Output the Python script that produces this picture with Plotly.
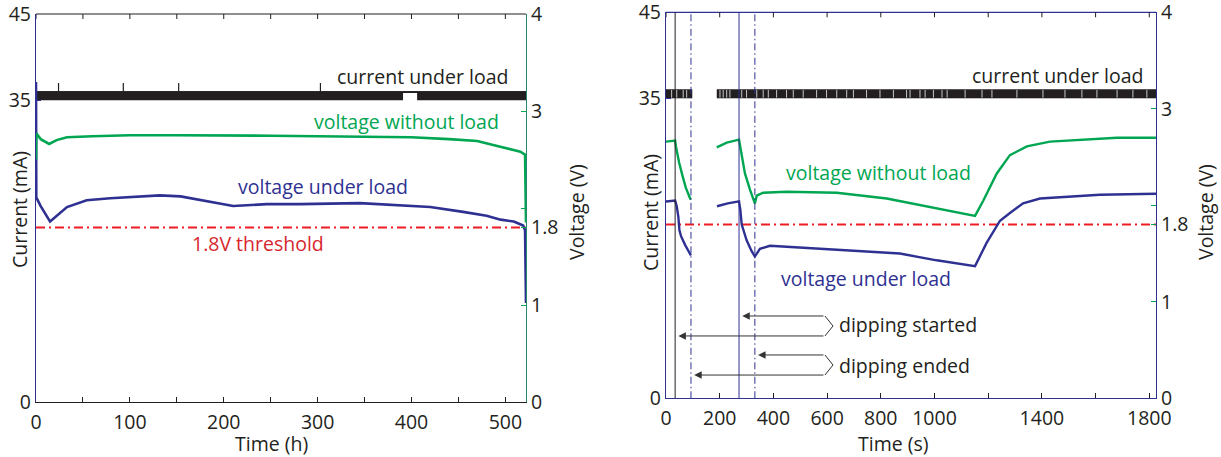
import plotly.graph_objects as go

# ---------------- data: left panel (long-term test, hours) ----------------
lt_green_t = [0, 0.3, 5, 14, 22, 33, 60, 100, 150, 200, 250, 300, 350, 400, 440, 470, 487, 500, 509, 516, 521, 522]
lt_green_v = [2.50, 2.77, 2.71, 2.66, 2.70, 2.73, 2.74, 2.75, 2.75, 2.75, 2.745, 2.74, 2.735, 2.73, 2.71, 2.69, 2.65, 2.62, 2.60, 2.58, 2.55, 1.85]
lt_blue_t = [0, 0.3, 5, 15, 33, 54, 79, 132, 154, 175, 189, 210, 246, 281, 345, 377, 420, 455, 480, 495, 509, 519, 521, 522]
lt_blue_v = [3.3, 2.11, 2.02, 1.86, 2.01, 2.08, 2.10, 2.13, 2.12, 2.08, 2.06, 2.02, 2.04, 2.04, 2.05, 2.03, 2.01, 1.96, 1.92, 1.88, 1.86, 1.82, 1.77, 1.02]
lt_cur_t = [0, 391, 391, 406, 406, 522]
lt_cur_lo = [35.0, 35.0, 35.85, 35.85, 35.0, 35.0]
lt_cur_hi = [36.0, 36.0, 36.0, 36.0, 36.0, 36.0]
lt_spike_t = [24, 93, 152, 303]
lt_spike_base = 36.0
lt_spike_peak = 37.0
lt_xmax = 522

# ---------------- data: right panel (dipping test, seconds) ----------------
st_green_t = [0, 34, 37, 49, 62, 74, 90, 93, None, 189, 226, 272, 282, 294, 313, 331, 338, 362, 449, 636, 822, 1008, 1151, 1182, 1232, 1281, 1344, 1430, 1554, 1680, 1825]
st_green_v = [2.66, 2.67, 2.61, 2.44, 2.30, 2.18, 2.07, 2.06, None, 2.60, 2.65, 2.68, 2.50, 2.33, 2.16, 2.02, 2.10, 2.13, 2.14, 2.13, 2.07, 1.97, 1.89, 2.05, 2.33, 2.52, 2.61, 2.66, 2.68, 2.70, 2.70]
st_blue_t = [0, 34, 40, 46, 50, 56, 71, 93, None, 190, 230, 272, 277, 282, 300, 318, 331, 350, 387, 574, 760, 871, 1008, 1151, 1194, 1244, 1281, 1330, 1393, 1493, 1616, 1825]
st_blue_v = [2.04, 2.05, 1.99, 1.88, 1.74, 1.68, 1.59, 1.48, None, 1.99, 2.02, 2.04, 1.95, 1.80, 1.64, 1.53, 1.47, 1.55, 1.58, 1.55, 1.52, 1.50, 1.43, 1.37, 1.61, 1.84, 1.92, 2.02, 2.07, 2.09, 2.11, 2.12]
st_cur_seg_start = [0, 190]
st_cur_seg_end = [97, 1825]
st_cur_lo = 35.0
st_cur_hi = 36.0
st_cur_dropouts = [21, 40, 64, 77, 201, 213, 226, 238, 282, 300, 338, 362, 381, 412, 449, 474, 511,
                   561, 598, 636, 673, 698, 747, 797, 847, 896, 909, 946, 965, 996, 1028, 1047, 1114,
                   1177, 1214, 1307, 1404, 1486, 1549, 1605, 1680, 1739, 1791]
dip_started = [34, 272]
dip_ended = [93, 331]
st_xmax = 1825

threshold_v = 1.8

# tick labels
lt_xticks = list(range(0, 501, 50))
lt_xticktext = [str(v) if v % 100 == 0 else "" for v in lt_xticks]
st_xticks = list(range(0, 1801, 200))
st_xticktext = ["0", "200", "400", "600", "800", "1000", "", "1400", "", "1800"]
cur_ticks = [0, 35, 45]
volt_ticks = [0, 1, 1.8, 2, 3, 4]
volt_ticktext = ["0", "1", "1.8", "", "3", "4"]

# ---------------- styles ----------------
GREEN = "#00a651"
BLUE = "#2e3192"
RED = "#ed1c24"
RED_TXT = "#d7262e"
BLACK = "#231f20"
TEAL = "#26876f"
FONT = "Open Sans"
FS = 19.5
W, H = 1221, 457

fig = go.Figure()

# ---- left panel current band ----
fig.add_trace(go.Scatter(x=lt_cur_t, y=lt_cur_lo, mode="lines", line=dict(width=0, color=BLACK),
                         xaxis="x", yaxis="y", showlegend=False, hoverinfo="skip"))
fig.add_trace(go.Scatter(x=lt_cur_t, y=lt_cur_hi, mode="lines", line=dict(width=1, color=BLACK),
                         fill="tonexty", fillcolor=BLACK, xaxis="x", yaxis="y", showlegend=False))
sx, sy = [], []
for t in lt_spike_t:
    sx += [t, t, None]
    sy += [lt_spike_base, lt_spike_peak, None]
fig.add_trace(go.Scatter(x=sx, y=sy, mode="lines", line=dict(width=1.2, color=BLACK),
                         xaxis="x", yaxis="y", showlegend=False))

# ---- left panel voltages ----
fig.add_trace(go.Scatter(x=[0, lt_xmax], y=[threshold_v, threshold_v], mode="lines",
                         line=dict(color=RED, width=2, dash="9px,4px,2px,4px"),
                         xaxis="x", yaxis="y2", showlegend=False))
fig.add_trace(go.Scatter(x=lt_blue_t, y=lt_blue_v, mode="lines", line=dict(color=BLUE, width=2.6),
                         xaxis="x", yaxis="y2", showlegend=False))
fig.add_trace(go.Scatter(x=lt_green_t, y=lt_green_v, mode="lines", line=dict(color=GREEN, width=2.6),
                         xaxis="x", yaxis="y2", showlegend=False))

# ---- right panel current band ----
bx, by = [], []
for a, b in zip(st_cur_seg_start, st_cur_seg_end):
    bx += [a, b, b, a, a, None]
    by += [st_cur_lo, st_cur_lo, st_cur_hi, st_cur_hi, st_cur_lo, None]
fig.add_trace(go.Scatter(x=bx, y=by, mode="lines", fill="toself", fillcolor=BLACK,
                         line=dict(width=0.5, color=BLACK), xaxis="x2", yaxis="y3", showlegend=False))
dx, dy = [], []
for t in st_cur_dropouts:
    dx += [t, t, None]
    dy += [st_cur_lo + 0.05, st_cur_hi - 0.05, None]
fig.add_trace(go.Scatter(x=dx, y=dy, mode="lines", line=dict(width=1, color="rgba(255,255,255,0.75)"),
                         xaxis="x2", yaxis="y3", showlegend=False))

# ---- right panel voltages ----
fig.add_trace(go.Scatter(x=[0, st_xmax], y=[threshold_v, threshold_v], mode="lines",
                         line=dict(color=RED, width=2, dash="9px,4px,2px,4px"),
                         xaxis="x2", yaxis="y4", showlegend=False))
fig.add_trace(go.Scatter(x=st_green_t, y=st_green_v, mode="lines", line=dict(color=GREEN, width=2.4),
                         xaxis="x2", yaxis="y4", showlegend=False, connectgaps=False))
fig.add_trace(go.Scatter(x=st_blue_t, y=st_blue_v, mode="lines", line=dict(color=BLUE, width=2.4),
                         xaxis="x2", yaxis="y4", showlegend=False, connectgaps=False))

shapes = []

# ---- top frame line + mirrored top ticks (drawn as shapes) ----
TICKFRAC_L = 5 / 388
TICKFRAC_R = 5 / 386
for xref, yref, ticks, col, frac in [("x", "y", lt_xticks, BLACK, TICKFRAC_L),
                                      ("x2", "y3", st_xticks, BLUE, TICKFRAC_R)]:
    shapes.append(dict(type="line", xref=f"{xref} domain", yref=f"{yref} domain",
                       x0=0, x1=1, y0=1, y1=1, line=dict(color=col, width=1.2)))
    for v in ticks:
        shapes.append(dict(type="line", xref=xref, yref=f"{yref} domain",
                           x0=v, x1=v, y0=1, y1=1 - frac, line=dict(color=BLACK, width=1)))

# ---- vertical event lines ----
start_colors = [BLACK, BLUE]
for t, c in zip(dip_started, start_colors):
    shapes.append(dict(type="line", xref="x2", yref="y3", x0=t, x1=t, y0=0, y1=45,
                       line=dict(color=c, width=1)))
for t in dip_ended:
    shapes.append(dict(type="line", xref="x2", yref="y3", x0=t, x1=t, y0=0, y1=45,
                       line=dict(color=BLUE, width=1, dash="7px,3px,1.5px,3px")))

# ---- bracket arrows ----
BR_X, TIP_X = 592, 622
ARROW_COL = "#333333"
arrow_rows = [  # (targets, y upper, y mid, y lower)
    (dip_started, 0.853, 0.749, 0.646),
    (dip_ended, 0.449, 0.345, 0.241),
]
annotations = []
for targets, yu, ym, yl in arrow_rows:
    shapes.append(dict(type="path", xref="x2", yref="y4",
                       path=f"M {BR_X},{yu} L {TIP_X},{ym} L {BR_X},{yl}",
                       line=dict(color=ARROW_COL, width=1)))
    # later event -> upper row, earlier event -> lower row
    for t, yy in [(targets[1], yu), (targets[0], yl)]:
        annotations.append(dict(x=t + 12, y=yy, xref="x2", yref="y4", ax=BR_X, ay=yy,
                                axref="x2", ayref="y4", text="", showarrow=True,
                                arrowhead=2, arrowsize=1.5, arrowwidth=1, arrowcolor=ARROW_COL))


def txt(s, x, y, xref, yref, color, xanchor="center", angle=0):
    annotations.append(dict(text=s, x=x, y=y, xref=xref, yref=yref, showarrow=False,
                            xanchor=xanchor, yanchor="middle", textangle=angle,
                            font=dict(family=FONT, size=FS, color=color)))


# left panel labels
txt("current under load", 505, 3.36, "x", "y2", BLACK, "right")
txt("voltage without load", 395, 2.89, "x", "y2", GREEN)
txt("voltage under load", 306, 2.22, "x", "y2", BLUE)
txt("1.8V threshold", 237, 1.63, "x", "y2", RED_TXT)
# right panel labels
txt("current under load", 1784, 3.35, "x2", "y4", BLACK, "right")
txt("voltage without load", 790, 2.34, "x2", "y4", GREEN)
txt("voltage under load", 745, 1.24, "x2", "y4", BLUE)
txt("dipping started", 637, 0.76, "x2", "y4", BLACK, "left")
txt("dipping ended", 637, 0.345, "x2", "y4", BLACK, "left")
# axis titles
txt("Current (mA)", 20 / W, 1 - 210 / H, "paper", "paper", BLACK, angle=-90)
txt("Voltage (V)", 576 / W, 1 - 212 / H, "paper", "paper", BLACK, angle=-90)
txt("Current (mA)", 650 / W, 1 - 213 / H, "paper", "paper", BLACK, angle=-90)
txt("Voltage (V)", 1205 / W, 1 - 212 / H, "paper", "paper", BLACK, angle=-90)
txt("Time (h)", 271 / W, 1 - 443 / H, "paper", "paper", BLACK)
txt("Time (s)", 894 / W, 1 - 443 / H, "paper", "paper", BLACK)

tickfont = dict(family=FONT, size=FS, color=BLACK)
common = dict(showgrid=False, zeroline=False, ticks="inside", ticklen=5, tickfont=tickfont,
              showline=True, linewidth=1.2, automargin=False, ticklabeloverflow="allow")

fig.update_layout(
    template="none",
    width=W, height=H, margin=dict(l=0, r=0, t=0, b=0, pad=0, autoexpand=False),
    paper_bgcolor="white", plot_bgcolor="white", showlegend=False,
    xaxis=dict(domain=[36 / W, 526 / W], range=[0, lt_xmax], anchor="y",
               tickmode="array", tickvals=lt_xticks, ticktext=lt_xticktext, ticklabelstandoff=2,
               linecolor=BLACK, tickcolor=BLACK, **common),
    yaxis=dict(domain=[1 - 402 / H, 1 - 14 / H], range=[0, 45], anchor="x",
               tickmode="array", tickvals=cur_ticks, linecolor=BLUE, tickcolor=BLUE, **common),
    yaxis2=dict(overlaying="y", side="right", range=[0, 4], anchor="x",
                tickmode="array", tickvals=volt_ticks, ticktext=volt_ticktext,
                linecolor=TEAL, tickcolor=GREEN, **common),
    xaxis2=dict(domain=[666 / W, 1156 / W], range=[0, st_xmax], anchor="y3",
                tickmode="array", tickvals=st_xticks, ticktext=st_xticktext, ticklabelstandoff=2,
                linecolor=BLUE, tickcolor=BLACK, **common),
    yaxis3=dict(domain=[1 - 398.3 / H, 1 - 12.3 / H], range=[0, 45], anchor="x2",
                tickmode="array", tickvals=cur_ticks, linecolor=BLUE, tickcolor=BLUE, **common),
    yaxis4=dict(overlaying="y3", side="right", range=[0, 4], anchor="x2",
                tickmode="array", tickvals=volt_ticks, ticktext=volt_ticktext,
                linecolor=BLUE, tickcolor=GREEN, **common),
    shapes=shapes, annotations=annotations,
)

fig.write_html("out.html")
